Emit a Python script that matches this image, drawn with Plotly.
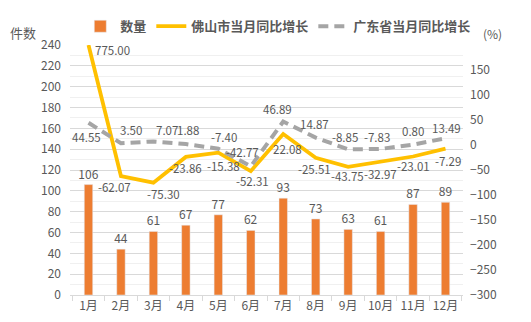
import plotly.graph_objects as go

months = ["1月", "2月", "3月", "4月", "5月", "6月", "7月", "8月", "9月", "10月", "11月", "12月"]
counts = [106, 44, 61, 67, 77, 62, 93, 73, 63, 61, 87, 89]
foshan_yoy = [775.00, -62.07, -75.30, -23.86, -15.38, -52.31, 22.08, -25.51, -43.75, -32.97, -23.01, -7.29]
guangdong_yoy = [44.55, 3.50, 7.07, 1.88, -7.40, -42.77, 46.89, 14.87, -8.85, -7.83, 0.80, 13.49]
left_ticks = list(range(0, 241, 20))
right_ticks = list(range(-300, 151, 50))
right_range = [-300, 200]

# label offsets in pixels (style only): (dx, dy) where dy>0 means downward
fs_offsets = [(24, 5), (-6, 11), (10, 11), (0, 11), (5, 13), (2, 10), (4, 15), (-1, 11), (-1, 9), (0, 13), (0, 9), (2, 12)]
gd_offsets = [(-2, 14), (10, -13), (14, -11), (2, -14), (6, -12), (-8, -14), (-6, -13), (-1, -14), (-3, -12), (-4, -12), (0, -14), (1, -10)]

FONT = "Noto Sans CJK SC, DejaVu Sans, sans-serif"
TXT = "#595959"
LBL = 11.5

fig = go.Figure()
fig.add_trace(go.Bar(
    x=months, y=counts, name="数量", marker_color="#ED7D31", width=0.26,
    text=[str(v) for v in counts], textposition="outside", constraintext="none",
    textfont=dict(size=12, color=TXT), cliponaxis=False,
))

# Like the source chart, values beyond the axis maximum are drawn at the axis edge
foshan_drawn = [min(v, right_range[1]) for v in foshan_yoy]
fig.add_trace(go.Scatter(
    x=months, y=foshan_drawn, name="佛山市当月同比增长", yaxis="y2", mode="lines",
    line=dict(color="#FFC000", width=3.8),
))
fig.add_trace(go.Scatter(
    x=months, y=guangdong_yoy, name="广东省当月同比增长", yaxis="y2", mode="lines",
    line=dict(color="#A5A5A5", width=4, dash="10px,6px"),
))

for m, v, d, (dx, dy) in zip(months, foshan_yoy, foshan_drawn, fs_offsets):
    fig.add_annotation(x=m, y=d, xref="x", yref="y2", text=f"{v:.2f}", showarrow=False,
                       xanchor="center", yanchor="middle", xshift=dx, yshift=-dy,
                       font=dict(size=LBL, color=TXT, family=FONT))
for m, v, (dx, dy) in zip(months, guangdong_yoy, gd_offsets):
    fig.add_annotation(x=m, y=v, xref="x", yref="y2", text=f"{v:.2f}", showarrow=False,
                       xanchor="center", yanchor="middle", xshift=dx, yshift=-dy,
                       font=dict(size=LBL, color=TXT, family=FONT))

fig.add_annotation(x=-0.158, y=1.005, xref="paper", yref="paper", text="件数", showarrow=False,
                   xanchor="left", yanchor="bottom", font=dict(size=13, color=TXT, family=FONT))
fig.add_annotation(x=1.105, y=1.005, xref="paper", yref="paper", text="(%)", showarrow=False,
                   xanchor="right", yanchor="bottom", font=dict(size=12, color=TXT, family=FONT))

fig.update_layout(
    width=531, height=322,
    margin=dict(l=70, r=68, t=45, b=27, autoexpand=False),
    paper_bgcolor="white", plot_bgcolor="white",
    font=dict(family=FONT, size=12, color=TXT),
    showlegend=True,
    legend=dict(orientation="h", x=0.53, xanchor="center", yref="container", y=0.965, yanchor="top",
                font=dict(size=13, color=TXT, family=FONT, weight="bold"),
                itemwidth=30, tracegroupgap=0),
    bargap=0.5,
    xaxis=dict(showline=True, linecolor="#D9D9D9", linewidth=1, ticks="outside", tickson="boundaries",
               tickcolor="#D9D9D9", ticklen=5, tickfont=dict(size=12, color=TXT), showgrid=False,
               tickangle=0, automargin=False),
    yaxis=dict(range=[0, 240], tickvals=left_ticks, showgrid=True, gridcolor="#D9D9D9", gridwidth=1,
               minor=dict(dtick=10, showgrid=True, gridcolor="#F0F0F0"), automargin=False,
               zeroline=False, tickfont=dict(size=12, color=TXT), ticklabelstandoff=8),
    yaxis2=dict(range=right_range, tickvals=right_ticks, overlaying="y", side="right", showgrid=False,
                zeroline=False, tickfont=dict(size=12, color=TXT), ticklabelstandoff=6, automargin=False),
)

fig.write_html("out.html")
